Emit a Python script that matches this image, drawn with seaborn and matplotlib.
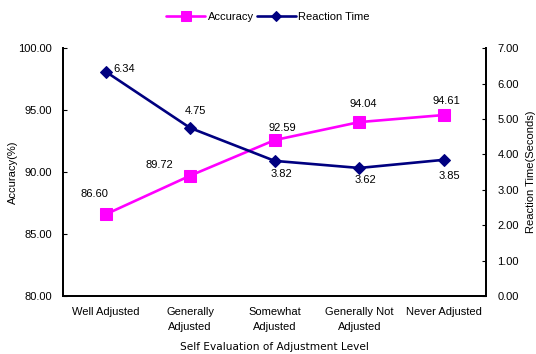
import matplotlib
matplotlib.use("Agg")
import matplotlib.pyplot as plt
import seaborn as sns
import pandas as pd

# data
categories = ["Well Adjusted", "Generally\nAdjusted", "Somewhat\nAdjusted",
              "Generally Not\nAdjusted", "Never Adjusted"]
accuracy = [86.60, 89.72, 92.59, 94.04, 94.61]
reaction_time = [6.34, 4.75, 3.82, 3.62, 3.85]

df = pd.DataFrame({"level": range(len(categories)), "Accuracy": accuracy,
                   "Reaction Time": reaction_time})

sns.set_style("white")
plt.rcParams["font.family"] = ["Liberation Sans", "DejaVu Sans"]
plt.rcParams["font.size"] = 8
plt.rcParams["text.color"] = "black"
plt.rcParams["axes.labelcolor"] = "black"
plt.rcParams["xtick.color"] = "black"
plt.rcParams["ytick.color"] = "black"

fig, ax = plt.subplots(figsize=(5.36, 3.54), dpi=100)
fig.subplots_adjust(left=0.118, right=0.907, top=0.864, bottom=0.163)
ax2 = ax.twinx()

sns.lineplot(data=df, x="level", y="Accuracy", ax=ax, color="#FF00FF", lw=1.9,
             marker="s", markersize=8.5, markeredgecolor="#FF00FF", label="Accuracy",
             legend=False)
sns.lineplot(data=df, x="level", y="Reaction Time", ax=ax2, color="#000080", lw=1.9,
             marker="D", markersize=6.5, markeredgecolor="#000080", label="Reaction Time",
             legend=False)

ax.set_xlim(-0.5, 4.5)
ax.set_ylim(80, 100)
ax.set_yticks([80, 85, 90, 95, 100])
ax.set_yticklabels([f"{v:.2f}" for v in [80, 85, 90, 95, 100]])
ax2.set_ylim(0, 7)
ax2.set_yticks(range(8))
ax2.set_yticklabels([f"{v:.2f}" for v in range(8)])
ax.set_xticks([0.5, 1.5, 2.5, 3.5])
ax.set_xticks(range(5), minor=True)
ax.set_xticklabels([])
ax.set_xticklabels(categories, minor=True, linespacing=1.55)
ax.tick_params(axis="x", which="minor", length=0, pad=8)
ax.tick_params(axis="x", which="major", direction="in", length=3)
ax.tick_params(axis="y", direction="in", length=3, pad=8)
ax2.tick_params(axis="y", direction="in", length=3, pad=8)

ax.set_xlabel("Self Evaluation of Adjustment Level", fontfamily="DejaVu Sans",
              fontsize=7.6, labelpad=7)
ax.set_ylabel("Accuracy(%)", labelpad=0)
ax2.set_ylabel("Reaction Time(Seconds)", labelpad=5)

for a in (ax, ax2):
    a.spines["top"].set_visible(False)
    for sp in a.spines.values():
        sp.set_color("black")
        sp.set_linewidth(1.3)

# value labels, offsets in pixels
acc_offsets = [(-11, 20), (-31, 11), (8, 12), (4, 18), (3, 14)]
for i, v in enumerate(accuracy):
    dx, dy = acc_offsets[i]
    ax.annotate(f"{v:.2f}", (i, v), xytext=(dx, dy), textcoords="offset pixels",
                ha="center", va="center")
rt_offsets = [(19, 3), (5, 17), (7, -13), (6, -12), (6, -16)]
for i, v in enumerate(reaction_time):
    dx, dy = rt_offsets[i]
    ax2.annotate(f"{v:.2f}", (i, v), xytext=(dx, dy), textcoords="offset pixels",
                 ha="center", va="center")

h1, l1 = ax.get_legend_handles_labels()
h2, l2 = ax2.get_legend_handles_labels()
fig.legend(h1 + h2, l1 + l2, loc="upper center", bbox_to_anchor=(0.5, 0.995), ncol=2,
           frameon=False, handlelength=3.5, columnspacing=0.3, handletextpad=0.2,
           markerscale=0.8)

fig.savefig("out.png", dpi=100)
